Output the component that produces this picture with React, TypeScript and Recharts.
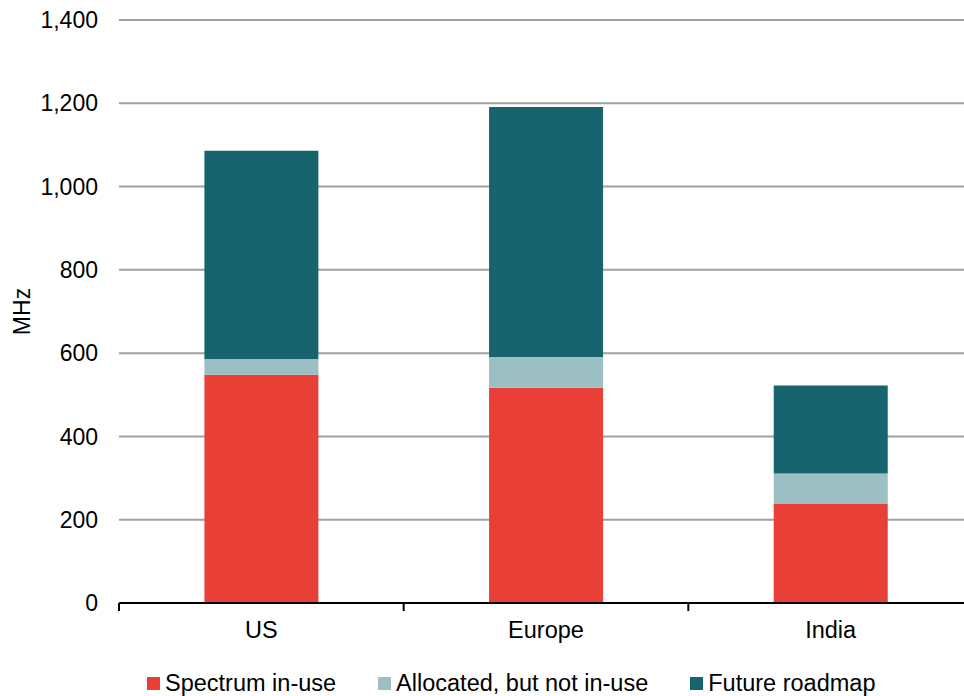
import { BarChart, Bar, XAxis, YAxis, CartesianGrid, Legend } from "recharts";

const regions = ["US", "Europe", "India"];
const inUse = [548, 517, 238];
const allocated = [38, 74, 73];
const roadmap = [500, 600, 211];
const yTicks = [0, 200, 400, 600, 800, 1000, 1200, 1400];

const seriesNames = ["Spectrum in-use", "Allocated, but not in-use", "Future roadmap"];
const seriesColors = ["#E84036", "#9BBFC2", "#17646E"];

const data = regions.map((region, i) => ({
  region,
  inUse: inUse[i],
  allocated: allocated[i],
  roadmap: roadmap[i],
}));

const FONT = "'Liberation Sans', Arial, sans-serif";
const CHART_W = 980;
const CHART_H = 696;
const Y_AXIS_W = 119;
const MARGIN = { top: 20, right: 7, bottom: 0, left: 0 };
const BAND = (CHART_W - MARGIN.left - MARGIN.right - Y_AXIS_W) / regions.length;

// category label plus a tick mark on the left boundary of each band
function RegionTick(props: any) {
  const { x, y, payload } = props;
  const half = payload?.offset || BAND / 2;
  return (
    <g>
      <line x1={x - half} x2={x - half} y1={y} y2={y + 8} stroke="#000" strokeWidth={2} />
      <text
        x={x}
        y={y + 27}
        textAnchor="middle"
        dominantBaseline="central"
        fill="#000"
        fontSize={23.5}
        fontFamily={FONT}
      >
        {payload.value}
      </text>
    </g>
  );
}

function UnitLabel(props: any) {
  const vb = props.viewBox || { x: 0, y: 20, width: 119, height: 583 };
  const cx = vb.x + 22;
  const cy = vb.y + vb.height / 2;
  return (
    <text
      x={cx}
      y={cy}
      transform={`rotate(-90 ${cx} ${cy})`}
      textAnchor="middle"
      dominantBaseline="central"
      fill="#000"
      fontSize={23}
      fontFamily={FONT}
    >
      MHz
    </text>
  );
}

function LegendRow() {
  return (
    <div style={{ display: "flex", alignItems: "center", fontFamily: FONT, fontSize: 23.5, color: "#000" }}>
      {seriesNames.map((name, i) => (
        <div key={name} style={{ display: "flex", alignItems: "center", marginRight: 42 }}>
          <span
            style={{ width: 13, height: 13, background: seriesColors[i], marginRight: 5, display: "inline-block" }}
          />
          <span style={{ lineHeight: "24px", whiteSpace: "nowrap" }}>{name}</span>
        </div>
      ))}
    </div>
  );
}

export default function App() {
  return (
    <div
      style={{
        position: "absolute",
        left: 0,
        top: 0,
        width: 964,
        height: 696,
        overflow: "hidden",
        background: "#fff",
      }}
    >
      <BarChart width={CHART_W} height={CHART_H} data={data} margin={MARGIN} barCategoryGap="30%">
        <CartesianGrid vertical={false} stroke="#A0A0A0" strokeWidth={2} />
        <XAxis
          dataKey="region"
          height={93}
          axisLine={{ stroke: "#000", strokeWidth: 2 }}
          tickLine={false}
          tickSize={0}
          tickMargin={0}
          tick={<RegionTick />}
          interval={0}
        />
        <YAxis
          width={Y_AXIS_W}
          domain={[0, 1400]}
          ticks={yTicks}
          axisLine={false}
          tickLine={false}
          tickSize={0}
          tickMargin={21}
          tickFormatter={(v: number) => v.toLocaleString("en-US")}
          tick={{ fill: "#000", fontSize: 23, fontFamily: FONT }}
          label={<UnitLabel />}
        />
        <Legend
          verticalAlign="middle"
          layout="horizontal"
          content={<LegendRow />}
          wrapperStyle={{ top: 671, left: 147, width: 840, height: 24 }}
        />
        <Bar dataKey="inUse" name={seriesNames[0]} stackId="s" fill={seriesColors[0]} isAnimationActive={false} />
        <Bar dataKey="allocated" name={seriesNames[1]} stackId="s" fill={seriesColors[1]} isAnimationActive={false} />
        <Bar dataKey="roadmap" name={seriesNames[2]} stackId="s" fill={seriesColors[2]} isAnimationActive={false} />
      </BarChart>
    </div>
  );
}
